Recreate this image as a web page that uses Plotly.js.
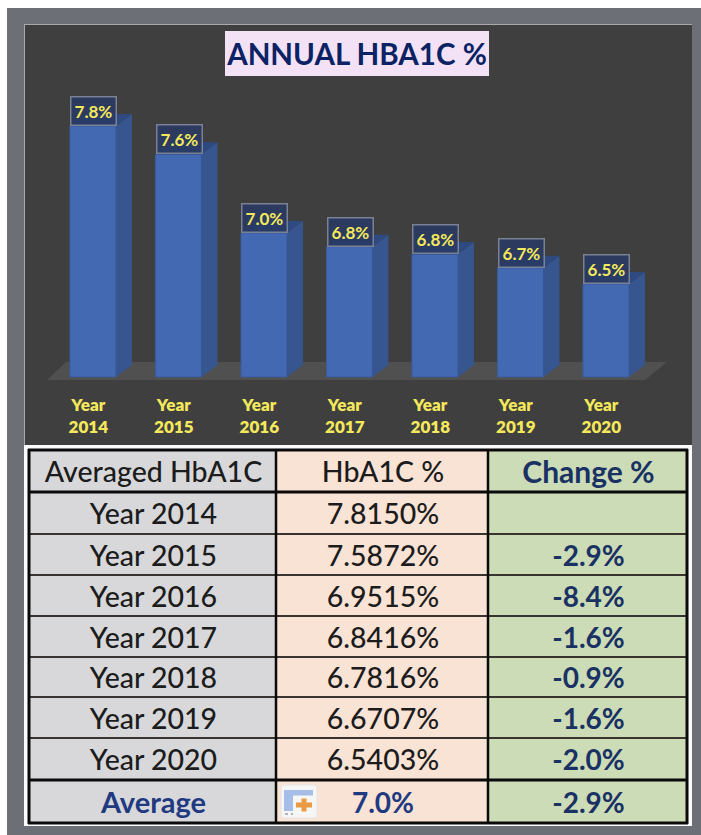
<!DOCTYPE html>
<html><head><meta charset="utf-8">
<script src="https://cdn.plot.ly/plotly-3.0.1.min.js"></script>
<style>html,body{margin:0;padding:0;background:#fff}</style></head>
<body><div id="chart" style="width:701px;height:835px"></div>
<script>
const years = ["Year 2014","Year 2015","Year 2016","Year 2017","Year 2018","Year 2019","Year 2020"];
const hba1c = [7.8150,7.5872,6.9515,6.8416,6.7816,6.6707,6.5403];
const changes = ["","-2.9%","-8.4%","-1.6%","-0.9%","-1.6%","-2.0%"];
const tableHeader = ["Averaged HbA1C","HbA1C %","Change %"];
const averageRow = ["Average","7.0%","-2.9%"];

const W=701,H=835;
const px=v=>v/W, py=v=>1-v/H;
const barBase=5.791, barW=0.538, dx=0.187, dy=0.097, labelShift=-0.055;
const idx=years.map((_,i)=>i);
const colEdges=[29,276,488,687];
const rowEdges=[450,492,534,575,616,657,697,738,780,823];
const thickRows=[450,492,780,823];
const colMid=[0,1,2].map(c=>(colEdges[c]+colEdges[c+1])/2+1);
const rowMid=rowEdges.slice(0,-1).map((r,i)=>(r+rowEdges[i+1])/2+4);
const cellMidRows=rowEdges.slice(0,-1).map((r,i)=>(r+rowEdges[i+1])/2);

function rect(x0,y0,x1,y1,fill){return {type:'rect',xref:'paper',yref:'paper',x0:px(x0),x1:px(x1),y0:py(y0),y1:py(y1),fillcolor:fill,line:{width:0},layer:'below'};}
function gridLine(x0,y0,x1,y1,color,width){return {type:'line',xref:'x2',yref:'y2',x0,y0,x1,y1,line:{color,width},layer:'above'};}

const sideX=[],sideY=[],topX=[],topY=[];
hba1c.forEach((v,i)=>{
  const r=i+barW/2,l=i-barW/2;
  sideX.push(r,r+dx,r+dx,r,r,null); sideY.push(barBase,barBase+dy,v+dy,v,barBase,null);
  topX.push(l,r,r+dx,l+dx,l,null); topY.push(v,v,v+dy,v+dy,v,null);
});

// table text, split by style
const plainText=[tableHeader[0],tableHeader[1],...years,...hba1c.map(v=>v.toFixed(4)+'%')];
const plainX=[colMid[0],colMid[1],...years.map(()=>colMid[0]),...years.map(()=>colMid[1])];
const plainY=[rowMid[0],rowMid[0],...years.map((_,i)=>rowMid[i+1]),...years.map((_,i)=>rowMid[i+1])];
const boldText=[tableHeader[2],...changes,...averageRow].map(t=>t?'<b>'+t+'</b>':'');
const boldX=[colMid[2],...years.map(()=>colMid[2]),colMid[0],colMid[1],colMid[2]];
const boldY=[rowMid[0],...years.map((_,i)=>rowMid[i+1]),rowMid[8],rowMid[8],rowMid[8]];
const boldColor=[...Array(8).fill('#1a3163'),'#1f3a80','#1f3a80','#1a3163'];

const traces=[
 {type:'bar',x:idx,y:hba1c.map(v=>v-barBase),base:barBase,width:barW,marker:{color:'#4369b2',line:{color:'#3a5c9f',width:1}},hoverinfo:'skip',showlegend:false},
 {type:'scatter',mode:'lines',x:sideX,y:sideY,fill:'toself',fillcolor:'#37568f',line:{width:0},hoverinfo:'skip',showlegend:false},
 {type:'scatter',mode:'lines',x:topX,y:topY,fill:'toself',fillcolor:'#2f4a80',line:{width:0},hoverinfo:'skip',showlegend:false},
 {type:'heatmap',xaxis:'x2',yaxis:'y2',x:colEdges,y:rowEdges,z:cellMidRows.map(()=>[0,1,2]),zmin:0,zmax:2,showscale:false,hoverinfo:'skip',
  colorscale:[[0,'#d8d8da'],[0.33,'#d8d8da'],[0.34,'#f9e3d5'],[0.66,'#f9e3d5'],[0.67,'#ccdcb7'],[1,'#ccdcb7']]},
 {type:'scatter',xaxis:'x2',yaxis:'y2',mode:'text',x:plainX,y:plainY,text:plainText,textposition:'middle center',hoverinfo:'skip',showlegend:false,
  textfont:{family:'Lato',size:28.5,color:'#1c1c1c',weight:500}},
 {type:'scatter',xaxis:'x2',yaxis:'y2',mode:'text',x:boldX,y:boldY,text:boldText,textposition:'middle center',hoverinfo:'skip',showlegend:false,
  textfont:{family:'Lato',size:[30,...Array(7).fill(28),29,28,28],color:boldColor}}
];

const hShapes=rowEdges.map(r=>gridLine(colEdges[0]-1,r,colEdges[3]+1,r,thickRows.includes(r)?'#0a0a0a':'#3a3430',thickRows.includes(r)?3:2));
const vShapes=colEdges.map(c=>gridLine(c,rowEdges[0]-1,c,rowEdges[9]+1,'#0a0a0a',c===colEdges[3]||c===colEdges[0]?3:2.5));
const iconShapes=[
 {type:'path',xref:'x2',yref:'y2',fillcolor:'#f6f6f7',line:{color:'#e8e4e0',width:1},layer:'above',path:'M284,785 L314,785 Q317,785 317,788 L317,815 Q317,818 314,818 L284,818 Q281,818 281,815 L281,788 Q281,785 284,785 Z'},
 {type:'path',xref:'x2',yref:'y2',fillcolor:'#a6bde8',line:{width:0},layer:'above',path:'M284,790 L313,790 L313,795.5 L293,795.5 L293,811 L284,811 Z'},
 {type:'rect',xref:'x2',yref:'y2',x0:296,x1:312,y0:802.5,y1:807.5,fillcolor:'#ea9a45',line:{width:0},layer:'above'},
 {type:'rect',xref:'x2',yref:'y2',x0:301.5,x1:306.5,y0:798.5,y1:811.5,fillcolor:'#ea9a45',line:{width:0},layer:'above'},
 {type:'line',xref:'x2',yref:'y2',x0:285,x1:293,y0:814,y1:814,line:{color:'#9a9a9a',width:1.5,dash:'dot'},layer:'above'}
];

const layout={
 width:W,height:H,margin:{l:0,r:0,t:0,b:0},paper_bgcolor:'#fff',plot_bgcolor:'rgba(0,0,0,0)',showlegend:false,
 title:{text:'<b>ANNUAL HBA1C %</b>',x:357/W,xanchor:'center',y:1-55/H,yanchor:'middle',font:{family:'Lato',size:29.5,color:'#0b2265'}},
 xaxis:{domain:[px(25),px(692)],range:[-0.795,7.006],tickmode:'array',tickvals:idx.map(i=>i+labelShift),
   ticktext:years.map(y=>y.replace(' ','<br>')),tickfont:{family:'Lato',size:17,color:'#f4e85c',weight:800},ticklen:0,showgrid:false,zeroline:false,showline:false,ticklabelstandoff:8,fixedrange:true},
 yaxis:{domain:[py(385),py(25)],range:[5.726,8.630],visible:false,fixedrange:true},
 xaxis2:{domain:[px(25),px(692)],range:[25,692],visible:false,anchor:'y2',fixedrange:true},
 yaxis2:{domain:[py(826),py(446)],range:[826,446],visible:false,anchor:'x2',fixedrange:true},
 shapes:[
  rect(0,0,701,835,'#fff'),
  rect(7,8,701,835,'#6c6f76'),
  rect(24,24,692,445,'#a9a9a9'),
  rect(25,25,692,445,'#3f3f3f'),
  rect(24,445,692,826,'#fbfbfb'),
  rect(225,31,489,76,'#f3e2f5'),
  {type:'path',xref:'paper',yref:'paper',layer:'below',line:{width:0},fillcolor:'#505050',
   path:`M${px(47)},${py(380)} L${px(66)},${py(362)} L${px(667)},${py(362)} L${px(645)},${py(380)} Z`},
  ...hShapes,...vShapes,...iconShapes
 ],
 annotations:hba1c.map((v,i)=>({xref:'x',yref:'y',x:i+0.008,y:v,yshift:0,xanchor:'center',yanchor:'bottom',showarrow:false,align:'center',
   text:'<b>'+v.toFixed(1)+'%</b>',font:{family:'Lato',size:17,color:'#f4e85c'},width:44,height:27,bgcolor:'rgba(40,58,100,0.85)',bordercolor:'#7a8194',borderwidth:1.5,borderpad:0}))
};
Plotly.newPlot('chart',traces,layout,{displayModeBar:false,staticPlot:true});
</script></body></html>
